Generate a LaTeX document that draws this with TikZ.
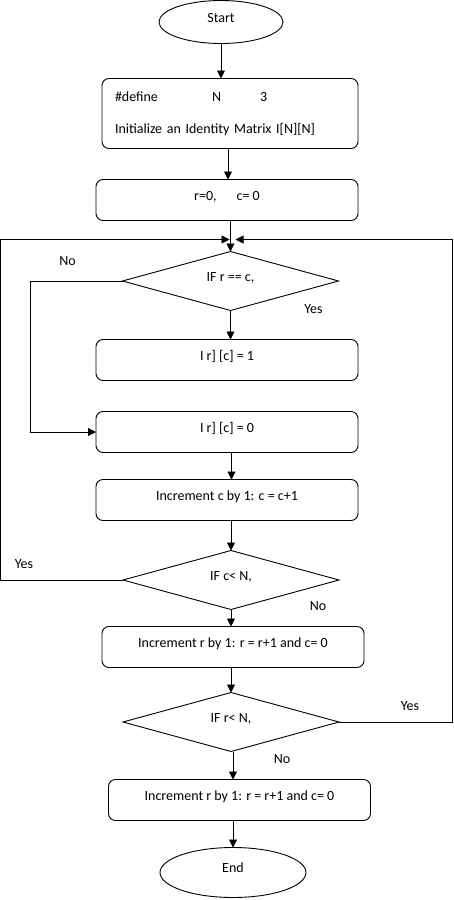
\documentclass[tikz,border=0pt]{standalone}
\usepackage{fontspec}
\setmainfont{Carlito}
\usetikzlibrary{arrows.meta,positioning,shapes.geometric,calc}
\newcommand\flowsize{\fontsize{14pt}{16pt}\selectfont}
\tikzset{
  box/.style   = {draw=black, rounded corners=7pt, minimum width=262pt,
                  minimum height=41pt, inner sep=0pt, outer sep=0pt,
                  line width=0.9pt, text height=8pt, text depth=8pt, font=\flowsize},
  boxl/.style  = {draw=black, rounded corners=7pt, minimum width=256pt,
                  minimum height=70pt, inner xsep=13pt, text width=230pt,
                  align=left, outer sep=0pt, line width=0.9pt, font=\flowsize},
  dec/.style   = {diamond, draw=black, shape aspect=3.66, minimum width=216pt,
                  minimum height=59pt, inner sep=0pt, outer sep=0pt,
                  line width=0.9pt, text height=8pt, text depth=8pt, font=\flowsize},
  term/.style  = {ellipse, draw=black, inner sep=0pt, outer sep=0pt,
                  line width=0.9pt, text height=8pt, text depth=8pt, font=\flowsize},
  lab/.style   = {font=\flowsize, inner sep=0pt},
  arr/.style   = {-{Triangle[length=8pt,width=8pt]}, draw=black, line width=0.9pt},
}

\begin{document}
\begin{tikzpicture}[x=1pt, y=1pt]
  \useasboundingbox (0,0) rectangle (454,-900);
  % setup
  \node[term, minimum width=124pt, minimum height=43pt] (start) at (221,-22) {Start};
  \node[boxl, below=35pt of start, xshift=9pt] (init)
    {\makebox[97pt][l]{\#define}\makebox[48pt][l]{N}3\\[16pt]
     Initialize an Identity Matrix I[N][N]};
  \node[box, below=31pt of init, xshift=-3pt] (rc) {r=0,\hspace{20pt}c= 0};
  \draw[arr] (start) -- (start |- init.north);
  \draw[arr] (init.south -| rc.north) ++(1pt,0) -- ++(0,-31pt);
  % inner test
  \node[dec, below=31pt of rc, xshift=3.5pt] (ifrc) {IF r == c,};
  \coordinate[above=12pt of ifrc.north] (join);
  \node[box, below=29pt of ifrc, xshift=-3.5pt] (one) {I r] [c] = 1};
  \node[box, below=31pt of one] (zero) {I r] [c] = 0};
  \node[box, below=27pt of zero] (incc) {Increment c by 1: c = c+1};
  \draw[arr] (rc.south -| ifrc.north) -- (ifrc.north);
  \draw[arr] (ifrc.south) -- (ifrc.south |- one.north);
  \draw[arr] (ifrc.west) -- ++(-92,0) |- (zero.west);
  \draw[arr] (zero.south -| ifrc.north) ++(1pt,0) -- ++(0,-27pt);
  \node[lab] (no1) at ($(ifrc.west)+(-55,20)$) {No};
  \node[lab] (yes1) at ($(ifrc.east)+(-25,-28)$) {Yes};
  % column loop
  \node[dec, below=30pt of incc, xshift=4pt] (ifcn) {IF c\textless{} N,};
  \node[box, below=17pt of ifcn, xshift=2pt] (incr) {Increment r by 1: r = r+1 and c= 0};
  \draw[arr] (incc.south -| ifcn.north) -- (ifcn.north);
  \draw[arr] (ifcn.south) -- (ifcn.south |- incr.north);
  \draw[arr] (ifcn.west) -- ++(-122.5,0) |- ([xshift=-1pt]join);
  \node[lab] (yes2) at ($(ifcn.west)+(-99,15.5)$) {Yes};
  \node[lab] (no2) at ($(ifcn.east)+(-21,-26.5)$) {No};
  % row loop
  \node[dec, below=25pt of incr, xshift=-2pt] (ifrn) {IF r\textless{} N,};
  \node[box, below=28pt of ifrn, xshift=8.5pt] (incr2) {Increment r by 1: r = r+1 and c= 0};
  \node[term, below=27pt of incr2, xshift=-6.5pt, minimum width=146pt,
        minimum height=50pt] (end) {End};
  \draw[arr] (incr.south -| ifrn.north) -- (ifrn.north);
  \draw[arr] (ifrn.south) ++(2pt,0) -- ++(0,-28pt);
  \draw[arr] (ifrn.east) -- ++(113.5,0) |- ([xshift=5pt]join);
  \draw[arr] (incr2.south -| end.north) -- (end.north);
  \node[lab] (yes3) at ($(ifrn.east)+(71,16)$) {Yes};
  \node[lab] (no3) at ($(ifrn.south)+(51,-8)$) {No};
\end{tikzpicture}
\end{document}
